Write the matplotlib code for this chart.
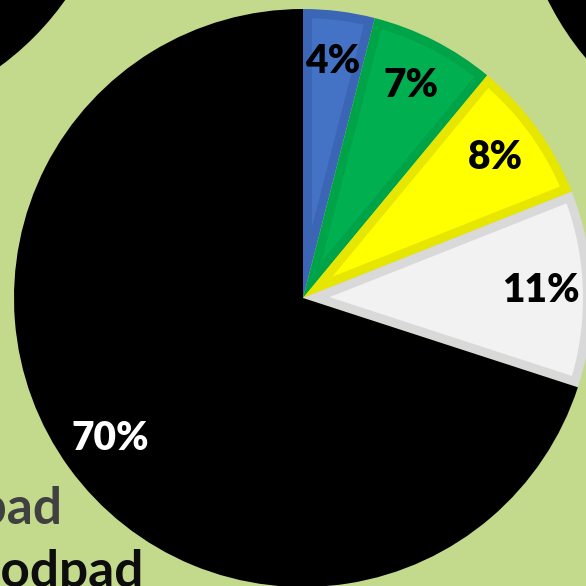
import numpy as np
import matplotlib.pyplot as plt
from matplotlib.patches import Circle, Polygon

# data
shares = [4, 7, 8, 11, 70]
fills = ["#4472C4", "#00B050", "#FFFF00", "#F2F2F2", "#000000"]
borders = ["#3B66B6", "#00A448", "#E6E600", "#D9D9D9", "#000000"]
label_colors = ["black", "black", "black", "black", "white"]
legend_bits = ["odpad", "Bioodpad"]

W = 586
cx, cy, R = 303, W - 298, 289
pad = 9  # width of the darker inner border, px

fig = plt.figure(figsize=(5.86, 5.86), dpi=100)
fig.patch.set_facecolor("#C3D98C")
ax = fig.add_axes([0, 0, 1, 1])

# neighbouring pies peeking in at the corners
ax.add_patch(Circle((-172, W + 168), 290, color="black"))
ax.add_patch(Circle((810, W + 130), 292, color="black"))

wedges, texts, autotexts = ax.pie(
    shares, colors=borders, startangle=90, counterclock=False,
    center=(cx, cy), radius=R, frame=True,
    autopct="%.0f%%", pctdistance=0.825,
    textprops=dict(fontsize=28, fontweight="heavy", family="Lato"),
)

# lighter fill inset inside each wedge
for w, fc in zip(wedges, fills):
    t1, t2 = np.radians(w.theta1), np.radians(w.theta2)
    half = (t2 - t1) / 2
    mid = t1 + half
    apex_d = pad / np.sin(half)
    r_in = R - pad
    if apex_d >= r_in:
        continue
    delta = np.arcsin(pad / r_in)
    angs = np.linspace(t1 + delta, t2 - delta, 100)
    pts = [(cx + apex_d * np.cos(mid), cy + apex_d * np.sin(mid))]
    pts += list(zip(cx + r_in * np.cos(angs), cy + r_in * np.sin(angs)))
    ax.add_patch(Polygon(pts, closed=True, facecolor=fc, edgecolor="none", zorder=w.get_zorder()))

for t, c in zip(autotexts, label_colors):
    t.set_color(c)
    t.set_zorder(5)

ax.text(62, W - 524, legend_bits[0], ha="right", va="baseline",
        fontsize=37, fontweight="bold", family="Lato", color="#404040")
ax.text(144, W - 587, legend_bits[1], ha="right", va="baseline",
        fontsize=37, fontweight="bold", family="Lato", color="#0d0d0d")

ax.set_xlim(0, W)
ax.set_ylim(0, W)
ax.axis("off")

fig.savefig("out.png", dpi=100, facecolor=fig.get_facecolor())
